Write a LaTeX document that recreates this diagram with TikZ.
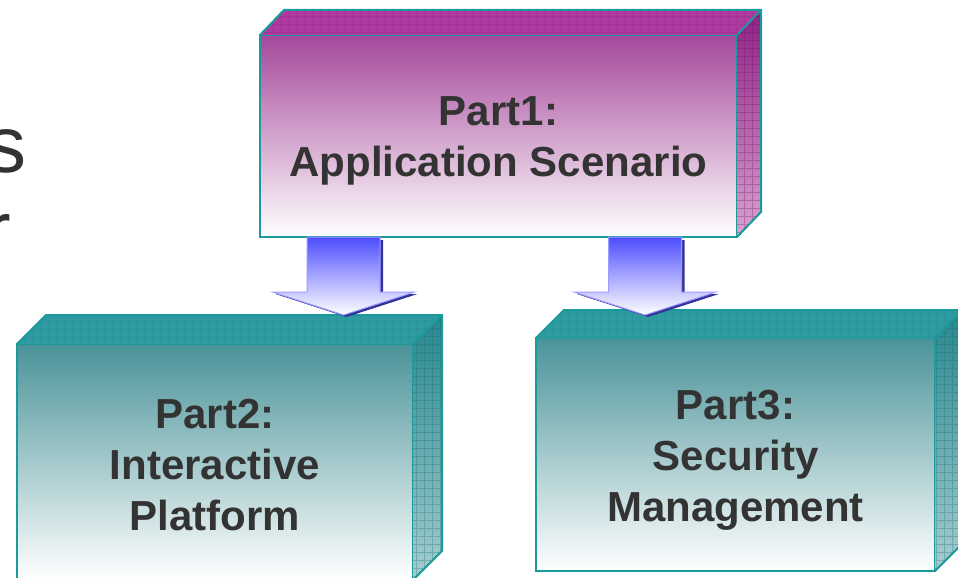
\documentclass[tikz,border=0pt]{standalone}
\usepackage{fontspec}
\setmainfont{Liberation Sans}
\usetikzlibrary{calc}
\definecolor{edge}{HTML}{1A9A9A}
\definecolor{txt}{HTML}{333333}
\definecolor{magtop}{HTML}{A5489B}
\definecolor{magface}{HTML}{AE3AA0}
\definecolor{magsidetop}{HTML}{8E2084}
\definecolor{magsidebot}{HTML}{D8A2CF}
\definecolor{magline}{HTML}{6E1066}
\definecolor{tealtop}{HTML}{4A9399}
\definecolor{tealface}{HTML}{2E9BA2}
\definecolor{tealsidetop}{HTML}{25878D}
\definecolor{tealsidebot}{HTML}{A6CDD0}
\definecolor{tealline}{HTML}{156A70}
\definecolor{arrtop}{HTML}{4D4DFF}
\definecolor{arrshadow}{HTML}{333399}
\definecolor{arredge}{HTML}{9C9CFF}
\newcommand{\blockarrowpath}[2]{($(#1)+(-36.5,0)$) -- ($(#1)+(36.5,0)$) -- ($(#2)+(36.5,-23)$) -- ($(#2)+(71,-23)$) -- (#2) -- ($(#2)+(-71,-23)$) -- ($(#2)+(-36.5,-23)$) -- cycle}
\tikzset{
  partbox/.style={draw=edge, line width=2pt, inner sep=0pt, outer sep=0pt,
    anchor=north west, top color=#1, bottom color=white},
  parttext/.style={align=center, text=txt, inner sep=0pt, font=\bfseries\fontsize{42}{51}\selectfont},
  topface/.style={fill=#1},
  edgeline/.style={draw=edge, line width=2pt, line join=round},
  texgrid/.style={draw=#1, line width=0.5pt, opacity=0.3},
  arrowbody/.style={draw=arredge, line width=1pt, line join=miter, top color=arrtop, bottom color=white},
  arrowshadow/.style={fill=arrshadow},
  sidetext/.style={anchor=base east, inner sep=0pt, text=txt, font=\fontsize{80}{96}\selectfont}
}
\begin{document}
\begin{tikzpicture}[x=1pt,y=-1pt]
\clip (0,0) rectangle (958,578);
\fill[white] (0,0) rectangle (958,578);

% partial text at the left edge
\node[sidetext] (ls) at (27,172) {s};
\node[sidetext] (lr) at (11,257) {r};

% ---------- Box 1 ----------
\node[partbox=magtop, minimum width=477pt, minimum height=202pt] (p1) at (260,35) {};
\node[parttext] (p1t) at ($(p1.center)+(0,5)$) {Part1:\\Application Scenario};
\path[topface=magface] (p1.north west) -- ++(24,-25) -- ($(p1.north east)+(24,-25)$) -- (p1.north east) -- cycle;
\path[top color=magsidetop, bottom color=magsidebot] (p1.north east) -- ++(24,-25) -- ($(p1.south east)+(24,-25)$) -- (p1.south east) -- cycle;
\begin{scope}
  \clip (p1.north east) -- ++(24,-25) -- ($(p1.south east)+(24,-25)$) -- (p1.south east) -- cycle;
  \draw[texgrid=magline, step=8pt] (730,0) grid (770,245);
\end{scope}
\begin{scope}
  \clip (p1.north west) -- ++(24,-25) -- ($(p1.north east)+(24,-25)$) -- (p1.north east) -- cycle;
  \draw[texgrid=magline, opacity=0.12, step=8pt] (255,0) grid (770,40);
\end{scope}
\draw[edgeline] (p1.north west) -- ++(24,-25) -- ($(p1.north east)+(24,-25)$) -- (p1.north east);
\draw[edgeline] ($(p1.north east)+(24,-25)$) -- ($(p1.south east)+(24,-25)$) -- (p1.south east);

% ---------- Box 2 ----------
\node[partbox=tealtop, minimum width=396pt, minimum height=236pt] (p2) at (17,344) {};
\node[parttext] (p2t) at ($(p2.center)+(0,3)$) {Part2:\\Interactive\\Platform};
\path[topface=tealface] (p2.north west) -- ++(29,-29) -- ($(p2.north east)+(29,-29)$) -- (p2.north east) -- cycle;
\path[top color=tealsidetop, bottom color=tealsidebot] (p2.north east) -- ++(29,-29) -- ($(p2.south east)+(29,-29)$) -- (p2.south east) -- cycle;
\begin{scope}
  \clip (p2.north east) -- ++(29,-29) -- ($(p2.south east)+(29,-29)$) -- (p2.south east) -- cycle;
  \draw[texgrid=tealline, step=8pt] (405,300) grid (450,585);
\end{scope}
\begin{scope}
  \clip (p2.north west) -- ++(29,-29) -- ($(p2.north east)+(29,-29)$) -- (p2.north east) -- cycle;
  \draw[texgrid=tealline, opacity=0.12, step=8pt] (10,305) grid (450,350);
\end{scope}
\draw[edgeline] (p2.north west) -- ++(29,-29) -- ($(p2.north east)+(29,-29)$) -- (p2.north east);
\draw[edgeline] ($(p2.north east)+(29,-29)$) -- ($(p2.south east)+(29,-29)$) -- (p2.south east);

% ---------- Box 3 ----------
\node[partbox=tealtop, minimum width=399pt, minimum height=233pt] (p3) at (536,338) {};
\node[parttext] (p3t) at ($(p3.center)+(0,6)$) {Part3:\\Security\\Management};
\path[topface=tealface] (p3.north west) -- ++(28,-28) -- ($(p3.north east)+(28,-28)$) -- (p3.north east) -- cycle;
\path[top color=tealsidetop, bottom color=tealsidebot] (p3.north east) -- ++(28,-28) -- ($(p3.south east)+(28,-28)$) -- (p3.south east) -- cycle;
\begin{scope}
  \clip (p3.north east) -- ++(28,-28) -- ($(p3.south east)+(28,-28)$) -- (p3.south east) -- cycle;
  \draw[texgrid=tealline, step=8pt] (928,300) grid (970,580);
\end{scope}
\begin{scope}
  \clip (p3.north west) -- ++(28,-28) -- ($(p3.north east)+(28,-28)$) -- (p3.north east) -- cycle;
  \draw[texgrid=tealline, opacity=0.12, step=8pt] (530,300) grid (970,345);
\end{scope}
\draw[edgeline] (p3.north west) -- ++(28,-28) -- ($(p3.north east)+(28,-28)$) -- (p3.north east);
\draw[edgeline] ($(p3.north east)+(28,-28)$) -- ($(p3.south east)+(28,-28)$) -- (p3.south east);

% ---------- Block arrows ----------
\coordinate (s1) at ($(p1.south west)+(83.5,0)$);
\coordinate (t1) at ($(s1 |- p2.north)+(0,-29)$);
\coordinate (s2) at ($(p1.south west)+(385,0)$);
\coordinate (t2) at ($(s2 |- p3.north)+(0,-23)$);
\coordinate (s1s) at ($(s1)+(3,3)$);
\coordinate (t1s) at ($(t1)+(3,2)$);
\coordinate (s2s) at ($(s2)+(3,3)$);
\coordinate (t2s) at ($(t2)+(3,2)$);
\path[arrowshadow] \blockarrowpath{s1s}{t1s};
\path[arrowbody] \blockarrowpath{s1}{t1};
\path[arrowshadow] \blockarrowpath{s2s}{t2s};
\path[arrowbody] \blockarrowpath{s2}{t2};
\end{tikzpicture}
\end{document}
